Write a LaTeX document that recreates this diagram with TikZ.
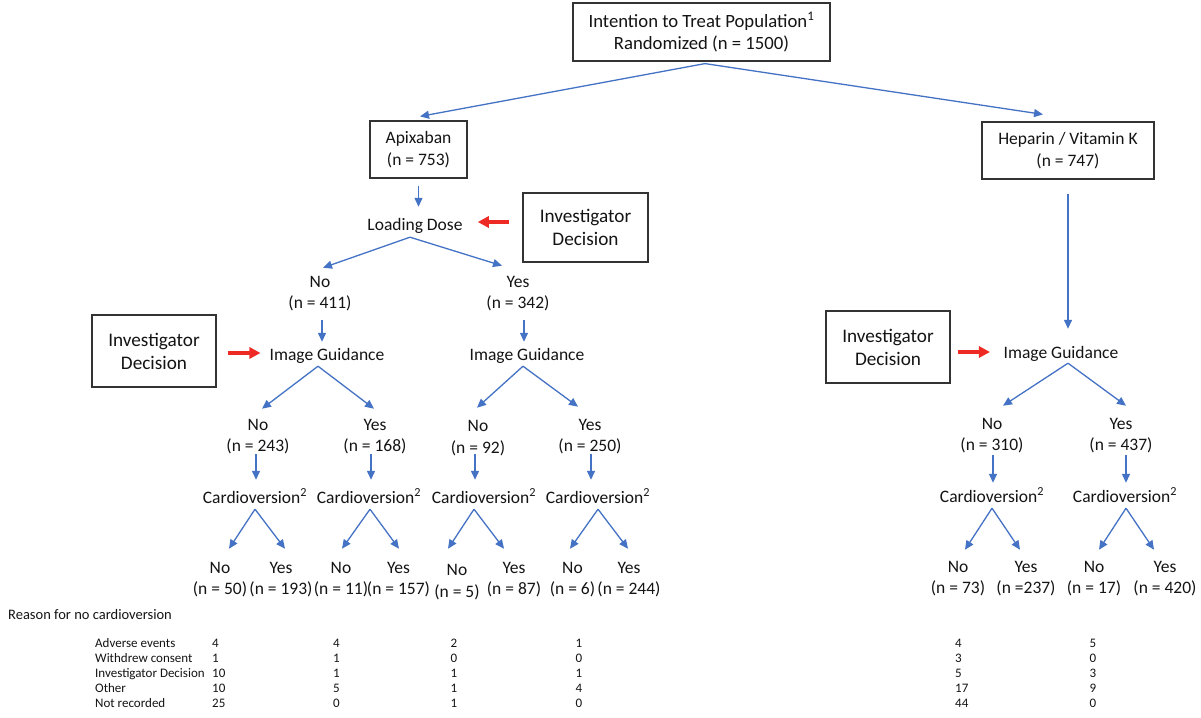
\documentclass[tikz,border=0pt]{standalone}
\usepackage{fontspec}
\setmainfont{Carlito}
\usetikzlibrary{arrows.meta}
\definecolor{arrblue}{HTML}{4472C4}
\definecolor{arrred}{HTML}{EE2A24}
\definecolor{txtc}{HTML}{141414}
\begin{document}
\begin{tikzpicture}[x=1pt,y=-1pt,
 every node/.style={text=txtc},
 mainf/.style={font=\fontsize{17.5}{21.5}\selectfont},
 box/.style={mainf, draw=black!80, line width=1.2pt, align=center, inner sep=0},
 invbox/.style={box, font=\fontsize{19.2}{23}\selectfont, minimum width=124pt, minimum height=72pt},
 txt/.style={mainf, inner sep=0, text height=12pt, text depth=4pt},
 two/.style={mainf, inner sep=0, align=center},
 tab/.style={font=\fontsize{13}{15}\selectfont, inner sep=0, text height=9.5pt, text depth=3pt},
 arr/.style={draw=arrblue, line width=1.3pt, -{Triangle[length=9pt,width=8pt]}},
 redarr/.style={draw=arrred, line width=4pt, -{Triangle[length=11pt,width=11pt]}},
]
\fill[white] (0,0) rectangle (1201,717);
\useasboundingbox (0,0) rectangle (1201,717);

% boxes
\node[box, font=\fontsize{18.7}{22}\selectfont, minimum width=257pt, minimum height=58pt] (root) at (701.5,32) {Intention to Treat Population\textsuperscript{1}\\Randomized (n = 1500)};
\node[box, minimum width=97pt, minimum height=57pt] (apix) at (418.5,149.5) {Apixaban\\(n = 753)};
\node[box, minimum width=172pt, minimum height=57pt] (hep) at (1068,150.5) {Heparin / Vitamin K\\(n = 747)};
\node[invbox, minimum width=125pt, minimum height=69pt] (inv1) at (585.5,227.5) {Investigator\\Decision};
\node[invbox] (inv2) at (154,351) {Investigator\\Decision};
\node[invbox] (inv3) at (888,347) {Investigator\\Decision};

% single-line text nodes
\node[txt] (ld) at (415,226) {Loading Dose};
\node[txt] (ig1) at (327,356) {Image Guidance};
\node[txt] (ig2) at (527,356) {Image Guidance};
\node[txt] (ig3) at (1061,354) {Image Guidance};
\node[txt] (cv1) at (255,499) {Cardioversion\textsuperscript{2}};
\node[txt] (cv2) at (369,499) {Cardioversion\textsuperscript{2}};
\node[txt] (cv3) at (484,499) {Cardioversion\textsuperscript{2}};
\node[txt] (cv4) at (598,499) {Cardioversion\textsuperscript{2}};
\node[txt] (cv5) at (992,498) {Cardioversion\textsuperscript{2}};
\node[txt] (cv6) at (1125,498) {Cardioversion\textsuperscript{2}};

% two-line text nodes
\node[two] (n411) at (320,293.5) {No\\(n = 411)};
\node[two] (n342) at (518,293.5) {Yes\\(n = 342)};
\node[two] (n243) at (258,436.5) {No\\(n = 243)};
\node[two] (n168) at (375,436.5) {Yes\\(n = 168)};
\node[two] (n92) at (478,438) {No\\(n = 92)};
\node[two] (n250) at (590,436.5) {Yes\\(n = 250)};
\node[two] (n310) at (992,435.5) {No\\(n = 310)};
\node[two] (n437) at (1121,435.5) {Yes\\(n = 437)};
\node[two] (n50) at (220,579.5) {No\\(n = 50)};
\node[two] (n193) at (281,579.5) {Yes\\(n = 193)};
\node[two] (n11) at (341,579.5) {No\\(n = 11)};
\node[two] (n157) at (398.5,579.5) {Yes\\(n = 157)};
\node[two] (n5) at (457,582) {No\\(n = 5)};
\node[two] (n87) at (514,579.5) {Yes\\(n = 87)};
\node[two] (n6) at (572.5,579.5) {No\\(n = 6)};
\node[two] (n244) at (629,579.5) {Yes\\(n = 244)};
\node[two] (n73) at (958,578.5) {No\\(n = 73)};
\node[two] (n237) at (1026,578.5) {Yes\\(n =237)};
\node[two] (n17) at (1094,578.5) {No\\(n = 17)};
\node[two] (n420) at (1165,578.5) {Yes\\(n = 420)};

% connectors: top
\draw[arr] ([shift={(3.5,2)}]root.south) -- ([shift={(1.5,-4)}]apix.north);
\draw[arr] ([shift={(3.5,2)}]root.south) -- ([shift={(-25,-7)}]hep.north);
\draw[arr] ([shift={(0,7)}]apix.south) -- ([shift={(3.5,-11)}]ld.north);
\draw[redarr] ([shift={(-13,-5.5)}]inv1.west) -- ([shift={(15,-4)}]ld.east);
\draw[arr] ([shift={(-5,3)}]ld.south) -- ([shift={(3,-8)}]n411.north);
\draw[arr] ([shift={(-5,3)}]ld.south) -- ([shift={(-16,-10)}]n342.north);
\draw[arr] ([shift={(2,9)}]n411.south) -- ([shift={(-5,-6)}]ig1.north);
\draw[arr] ([shift={(6,9)}]n342.south) -- ([shift={(-3,-6)}]ig2.north);
\draw[redarr] ([shift={(11,2)}]inv2.east) -- ([shift={(-9,-3)}]ig1.west);
% image guidance splits (left)
\draw[arr] ([shift={(-9,2)}]ig1.south) -- ([shift={(4,-10)}]n243.north);
\draw[arr] ([shift={(-9,2)}]ig1.south) -- ([shift={(-1,-10)}]n168.north);
\draw[arr] ([shift={(-4,2)}]ig2.south) -- ([shift={(-1,-12.5)}]n92.north);
\draw[arr] ([shift={(-4,2)}]ig2.south) -- ([shift={(-12,-12)}]n250.north);
% down to cardioversion
\draw[arr] ([shift={(-2,0)}]n243.south) -- ([shift={(1,-11)}]cv1.north);
\draw[arr] ([shift={(-4,0)}]n168.south) -- ([shift={(2,-11)}]cv2.north);
\draw[arr] ([shift={(-3,-1.5)}]n92.south) -- ([shift={(-9,-11)}]cv3.north);
\draw[arr] ([shift={(1,0)}]n250.south) -- ([shift={(-7,-11)}]cv4.north);
% cardioversion splits
\draw[arr] ([shift={(0,2)}]cv1.south) -- ([shift={(9,-13)}]n50.north);
\draw[arr] ([shift={(0,2)}]cv1.south) -- ([shift={(4,-13)}]n193.north);
\draw[arr] ([shift={(1,2)}]cv2.south) -- ([shift={(1,-13)}]n11.north);
\draw[arr] ([shift={(1,2)}]cv2.south) -- ([shift={(0.5,-13)}]n157.north);
\draw[arr] ([shift={(-10,2)}]cv3.south) -- ([shift={(-9,-15.5)}]n5.north);
\draw[arr] ([shift={(-10,2)}]cv3.south) -- ([shift={(-10,-13)}]n87.north);
\draw[arr] ([shift={(0,2)}]cv4.south) -- ([shift={(-2.5,-13)}]n6.north);
\draw[arr] ([shift={(0,2)}]cv4.south) -- ([shift={(-1,-13)}]n244.north);
% right tree
\draw[arr] ([shift={(0,14)}]hep.south) -- ([shift={(7,-17)}]ig3.north);
\draw[redarr] ([shift={(7,5)}]inv3.east) -- ([shift={(-13.5,-2)}]ig3.west);
\draw[arr] ([shift={(7,1)}]ig3.south) -- ([shift={(11,-12)}]n310.north);
\draw[arr] ([shift={(7,1)}]ig3.south) -- ([shift={(5,-12)}]n437.north);
\draw[arr] ([shift={(1,2)}]n310.south) -- ([shift={(1,-7)}]cv5.north);
\draw[arr] ([shift={(5,2)}]n437.south) -- ([shift={(1,-7)}]cv6.north);
\draw[arr] ([shift={(0,2)}]cv5.south) -- ([shift={(7,-11)}]n73.north);
\draw[arr] ([shift={(0,2)}]cv5.south) -- ([shift={(-6,-11)}]n237.north);
\draw[arr] ([shift={(1,2)}]cv6.south) -- ([shift={(5,-11)}]n17.north);
\draw[arr] ([shift={(1,2)}]cv6.south) -- ([shift={(-11,-11)}]n420.north);

% table
\node[font=\fontsize{14.5}{17}\selectfont, inner sep=0, anchor=west] (hdr) at (8,615) {Reason for no cardioversion};
\foreach \lab [count=\i] in {Adverse events, Withdrew consent, Investigator Decision, Other, Not recorded}
  \node[tab, anchor=west] (lab\i) at (95,629+15*\i) {\lab};
\foreach \v [count=\i] in {4,1,10,10,25}
  \node[tab, anchor=west] (ca\i) at (212,629+15*\i) {\v};
\foreach \v [count=\i] in {4,1,1,5,0}
  \node[tab] (cb\i) at (336.5,629+15*\i) {\v};
\foreach \v [count=\i] in {2,0,1,1,1}
  \node[tab] (cc\i) at (454,629+15*\i) {\v};
\foreach \v [count=\i] in {1,0,1,4,0}
  \node[tab] (cd\i) at (579,629+15*\i) {\v};
\foreach \v [count=\i] in {4,3,5,17,44}
  \node[tab, anchor=west] (ce\i) at (955,629+15*\i) {\v};
\foreach \v [count=\i] in {5,0,3,9,0}
  \node[tab] (cf\i) at (1093,629+15*\i) {\v};
\end{tikzpicture}
\end{document}
